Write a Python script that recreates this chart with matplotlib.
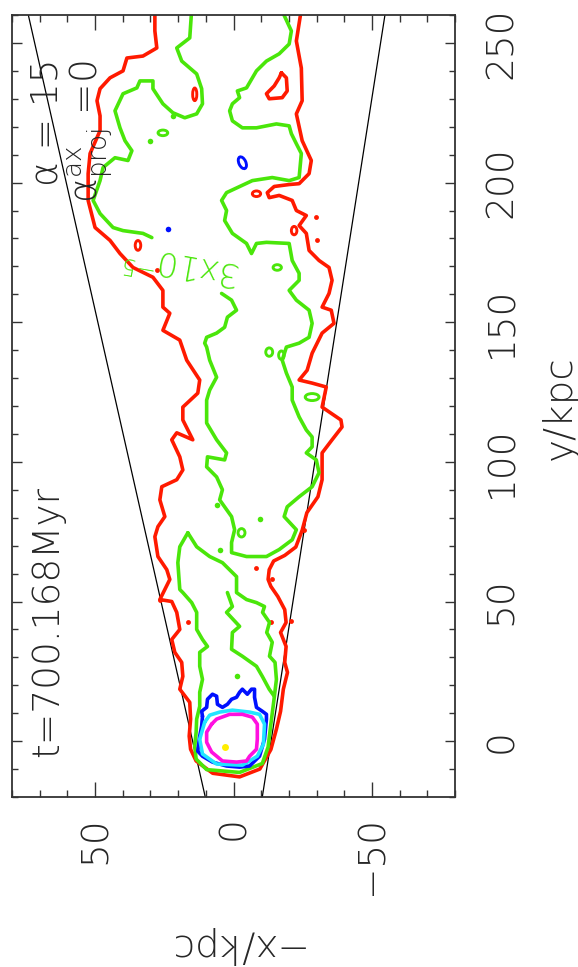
import matplotlib
matplotlib.use("Agg")
import matplotlib.pyplot as plt
from matplotlib.patches import Ellipse
from matplotlib.ticker import MultipleLocator

# ---- contour traces: (-x, y) in kpc ----
red_x = [28.4, 28.4, 27.7, 32.7, 38.5, 39.9, 44.6, 48.2, 49.3, 48.2,
         48.2, 51.8, 52.5, 52.5, 50.0, 44.6, 41.0, 36.3, 29.1, 25.5,
         25.5, 23.0, 25.5, 19.4, 16.9, 12.2, 12.9, 18.3, 18.3, 14.7,
         20.5, 22.3, 19.4, 18.3, 20.5, 25.9, 26.6, 24.8, 27.3, 28.4,
         27.3, 24.1, 23.0, 26.6, 22.3, 20.5, 19.4, 22.3, 21.2, 18.7,
         18.3, 19.4, 15.8, 15.5, 16.0, 15.5, 13.5, 7.5, -2.2, -9.5,
         -13.5, -15.5, -17.0, -18.0, -19.5, -18.5, -19.0, -17.0, -19.0, -18.5,
         -16.0, -13.5, -12.5, -12.9, -14.5, -18.5, -22.5, -24.8, -26.5, -30.5,
         -32.0, -32.0, -35.6, -39.2, -38.8, -32.0, -33.5, -28.4, -23.7, -26.6,
         -28.4, -32.0, -36.3, -35.3, -32.0, -34.5, -35.6, -34.5, -30.9, -27.3,
         -26.3, -23.7, -26.3, -22.7, -21.2, -16.5, -12.9, -12.2, -14.7, -20.1,
         -23.7, -27.3, -28.1, -24.8, -22.7, -24.8, -24.5, -22.7, -24.5]
red_y = [262, 254.3, 248.2, 245.3, 244.6, 240, 237.5, 233.6, 229.3, 223.9,
         218.6, 210.4, 203.2, 193.6, 183.9, 179.3, 174.6, 169.6, 166.1, 161.4,
         155.4, 153.2, 147.1, 143.6, 136.4, 129.3, 124.6, 119.6, 115, 107.9,
         110.4, 107.9, 101.8, 97.1, 93.6, 91.1, 86.4, 80.4, 76.8, 73.2,
         66.1, 61.4, 57.9, 50.7, 50, 46.1, 40, 36.4, 31.8, 28.2,
         23.2, 18.6, 13.9, 7.9, 1.8, -2.9, -7.1, -11.5, -12.8, -10.0,
         -3.0, 4.3, 10.7, 18.6, 24.6, 28.2, 33.9, 38.9, 42.5, 47.1,
         51.8, 55.4, 57.9, 61.4, 64.5, 66.5, 69.5, 75.5, 81.8, 87.5,
         93.6, 103.2, 107.9, 112.5, 115, 119.6, 126.8, 128.2, 129.3, 132.8,
         138.9, 146.1, 149.6, 154.3, 155.4, 160.3, 165, 169.6, 172.1, 175.7,
         181.8, 184.6, 188.2, 190, 193.6, 195.4, 194.6, 196.4, 198.6, 199.3,
         199.6, 203.2, 207.9, 215, 224.6, 229.3, 241, 250.7, 262]

red_heart_x = [-17.3, -19.1, -19.4, -17.6, -12.9, -11.9, -14.7, -16.5, -17.3]
red_heart_y = [239.3, 237.5, 232.8, 230.4, 230.0, 231.8, 234.6, 237.5, 239.3]

red_loop_x = [14.0, -8.3, 34.5, -21.9]
red_loop_y = [231.6, 196.0, 177.5, 182.8]
red_loop_w = [1.5, 3.0, 2.0, 2.0]
red_loop_h = [4.5, 2.0, 3.5, 3.0]
red_dot_x = [27.7, -30.2, -29.9, 26.6, 16.5, -13.7, -20.9, -8.3, -14.0, -25.5]
red_dot_y = [168.6, 179.3, 187.5, 50.7, 42.5, 42.5, 42.9, 62.1, 57.9, 75.7]

# 3e-5 level: upper branch (left of the label) and the rest of the lobe
green_a_x = [15.1, 15.8, 20.5, 18.7, 13.3, 11.5, 11.2, 13.3, 17.6, 21.9,
             25.5, 29.1, 29.1, 33.8, 34.9, 39.9, 42.8, 41.0, 39.2, 36.7,
             38.1, 42.8, 47.1, 48.2, 50.7, 48.2, 43.5, 39.9, 32.7, 29.5]
green_a_y = [262, 251.8, 248.2, 243.5, 238.9, 233.6, 228.2, 224.6, 223.2, 225,
             228.2, 233.6, 236.4, 236.4, 233.9, 231.8, 225.7, 219.6, 215, 211.4,
             207.9, 208.9, 205.4, 200.7, 193.6, 188.9, 183.9, 182.8, 181.8, 180.3]
green_b_x = [4.3, 0.7, -1.1, 2.2, 3.2, 6.1, 9.7, 10.4, 9.7, 8.6,
             6.1, 8.6, 9.7, 9.7, 6.1, 2.5, 3.2, 9.4, 9.7, 6.1,
             4.0, 5.0, 2.5, 0.7, -0.4, 0.7, 0.7, -4.7, -11.9, -16.5,
             -21.2, -22.7, -18.3, -19.4, -23.7, -28.4, -30.9, -29.9, -26.3, -28.4,
             -28.4, -26.3, -23.7, -21.2, -21.2, -19.1, -17.6, -19.1, -23.7, -27.3,
             -28.4, -27.3, -22.7, -20.1, -23.7, -23.7, -21.2, -20.1, -11.9, -8.3,
             -6.5, -4.7, 0.4, 3.2, 2.5, 4.3, 2.5, -6.8, -14.0, -20.1,
             -23.7, -24.5, -22.7, -20.9, -20.1, -15.5, -8.3, -3.2, 0.4, 1.4,
             0.4, -2.2, -1.4, -4.7, -8.3, -11.9, -16.5, -20.1, -20.9, -17.3]
green_b_y = [160.3, 157.9, 154.3, 151.8, 148.2, 146.1, 144.6, 142.5, 141.1, 136.4,
             130.3, 125.7, 122.1, 113.9, 107.9, 103.2, 100.7, 101.8, 98.2, 94.6,
             90, 86.4, 82.9, 80.4, 75.7, 71.1, 67.5, 66.1, 66.1, 68.6,
             72.1, 75.7, 80.4, 83.9, 87.5, 91.1, 96.1, 100.7, 103.2, 105.4,
             108.9, 111.4, 116.1, 122.1, 126.8, 131.8, 136.4, 141.1, 142.5, 144.6,
             149.6, 154.3, 157.9, 161.4, 165, 167.5, 172.1, 178.2, 178.6, 178.2,
             174.6, 178.2, 181.8, 186.4, 190, 193.6, 196.4, 200.7, 201.8, 200.7,
             201.8, 210.4, 213.9, 217.5, 220.3, 221, 219.6, 219.6, 222.1, 225.7,
             228.2, 230.4, 232.8, 233.9, 240, 243.5, 246.1, 249.6, 254.3, 262]
green_c_x = [16.5, 19.4, 20.1, 19.4, 18.3, 15.1, 13.3, 13.3, 11.2, 9.4,
             12.2, 12.2, 11.2, 12.2, 12.2, 13.3, 13.5, 14.0, 13.5, 9.7,
             -2.2, -10.4, -12.5, -13.5, -14.5, -15.5, -15.0, -13.0, -14.0, -12.0,
             -13.0, -10.5, -11.2, -8.3, -4.7, -1.1, -1.1, 4.0, 8.6, 13.3, 16.5]
green_c_y = [74.6, 69.6, 63.9, 54.3, 53.2, 49.6, 46.1, 40, 36.4, 33.9,
             31.8, 26.8, 22.1, 17.5, 12.5, 7.9, 3.2, -1.8, -6.4, -10.2,
             -11.2, -8.0, -2.1, 6.1, 13.9, 22.1, 28.2, 30.4, 35.4, 38.9,
             42.5, 46.1, 48.2, 49.6, 50.7, 53.2, 58.9, 63.9, 66.1, 69.6, 74.6]
green_d_x = [2.2, 0.4, 2.5, -2.2, 0.4, 0.7, -3.2, -8.3, -10.4, -12.9, -14.7]
green_d_y = [53.2, 48.2, 46.1, 41.1, 38.9, 32.9, 30.4, 26.8, 23.2, 18.6, 16.1]

green_loop_x = [25.5, -15.8, -12.9, -17.3, -2.9, -28.4]
green_loop_y = [217.8, 169.6, 139.3, 138.2, 74.6, 123.2]
green_loop_w = [3.5, 3.0, 2.5, 2.0, 2.5, 5.0]
green_loop_h = [2.0, 2.0, 3.0, 3.0, 3.0, 2.5]
green_dot_x = [30.2, 21.9, 5.8, -9.7, 5.0, -1.1]
green_dot_y = [215.0, 223.9, 84.6, 79.6, 68.6, 23.2]

blue_x = [11.2, 11.5, 9.7, 9.4, 7.6, 6.1, 5.8, 4.0, 2.2, 0.7,
          -1.1, -2.2, -3.2, -5.0, -6.5, -7.6, -7.6, -8.3, -10.4, -11.9,
          -11.9, -11.2, -9.4, -5.8, -2.2, 2.5, 7.6, 11.2, 12.9, 12.2, 11.5, 11.2]
blue_y = [8.9, 10.7, 12.1, 15.0, 16.8, 16.1, 13.2, 12.1, 13.2, 15.0,
          15.7, 17.5, 18.6, 16.8, 18.6, 18.6, 15.7, 12.1, 10.7, 9.6,
          7.9, 0.7, -5.4, -8.9, -9.3, -8.9, -7.5, -5.4, -3.6, 1.8, 5.4, 8.9]
blue_loop = (-3.2, 207.1, 2.5, 4.5)
blue_dot = (23.7, 183.2)

cyan_x = [10.4, 12.2, 11.2, 6.1, -3.2, -8.6, -10.8, -11.2, -9.4, -5.8, 0.4, 5.0, 8.6, 10.4]
cyan_y = [6.8, 0.7, -4.6, -8.2, -8.6, -5.4, -1.1, 6.1, 9.6, 10.4, 11.1, 10.4, 9.3, 6.8]

magenta_x = [7.9, 6.1, 1.4, -3.2, -6.8, -8.6, -8.6, -8.3, -5.8, -4.7, -1.1, 4.0, 7.9, 9.7, 9.7, 7.9]
magenta_y = [6.1, 7.9, 9.6, 9.6, 8.6, 6.1, 0.7, -2.9, -5.4, -7.1, -7.5, -7.1, -3.9, -0.4, 3.2, 6.1]

yellow_peak = (2.9, -2.1)

# opening-angle lines
cone_left_x = [10.2, 74.1]
cone_right_x = [-10.4, -54.7]
cone_y = [-20, 260]

x_ticks = [50, 0, -50]
y_ticks = [0, 50, 100, 150, 200, 250]

RED, GREEN, BLUE = "#ff1a00", "#4ae60a", "#0010ff"
CYAN, MAGENTA, YELLOW = "#22e5ff", "#ff10e0", "#ffee00"
INK = "#262626"
LW = 2.6
WEIGHT = "light"

plt.rcParams["font.family"] = ["DejaVu Sans"]
plt.rcParams["font.weight"] = WEIGHT
plt.rcParams["mathtext.fontset"] = "custom"
plt.rcParams["mathtext.rm"] = "DejaVu Sans:light"
plt.rcParams["mathtext.it"] = "DejaVu Sans:light"
plt.rcParams["mathtext.default"] = "regular"

fig = plt.figure(figsize=(5.78, 9.67), dpi=100)
ax = fig.add_axes([12 / 578, 1 - 797 / 967, 443 / 578, 782 / 967])
ax.set_xlim(80, -80)
ax.set_ylim(-20, 260)

line_kw = dict(lw=LW, solid_joinstyle="round", solid_capstyle="round")

ax.plot(cone_left_x, cone_y, color="black", lw=0.9)
ax.plot(cone_right_x, cone_y, color="black", lw=0.9)

ax.plot(red_x, red_y, color=RED, **line_kw)
ax.plot(red_heart_x, red_heart_y, color=RED, **line_kw)
for cx, cy, w, h in zip(red_loop_x, red_loop_y, red_loop_w, red_loop_h):
    ax.add_patch(Ellipse((cx, cy), w, h, fill=False, ec=RED, lw=LW * 0.8))
ax.plot(red_dot_x, red_dot_y, "o", color=RED, ms=3.5, mew=0)

for gx, gy in [(green_a_x, green_a_y), (green_b_x, green_b_y),
               (green_c_x, green_c_y), (green_d_x, green_d_y)]:
    ax.plot(gx, gy, color=GREEN, **line_kw)
for cx, cy, w, h in zip(green_loop_x, green_loop_y, green_loop_w, green_loop_h):
    ax.add_patch(Ellipse((cx, cy), w, h, fill=False, ec=GREEN, lw=LW * 0.8))
ax.plot(green_dot_x, green_dot_y, "o", color=GREEN, ms=4, mew=0)

ax.plot(blue_x, blue_y, color=BLUE, **line_kw)
ax.add_patch(Ellipse(blue_loop[:2], blue_loop[2], blue_loop[3], angle=-25,
                     fill=False, ec=BLUE, lw=LW * 0.8))
ax.plot(*blue_dot, "o", color=BLUE, ms=4, mew=0)
ax.plot(cyan_x, cyan_y, color=CYAN, **line_kw)
ax.plot(magenta_x, magenta_y, color=MAGENTA, **line_kw)
ax.plot(*yellow_peak, "o", color=YELLOW, ms=5, mew=0)

# contour label
ax.text(0.385, 0.683, r"3x10$^{-5}$", transform=ax.transAxes, rotation=170,
        rotation_mode="anchor", ha="center", va="center", color=GREEN, fontsize=24)

# axes styling
ax.set_xticks(x_ticks)
ax.set_yticks(y_ticks)
ax.xaxis.set_minor_locator(MultipleLocator(10))
ax.yaxis.set_minor_locator(MultipleLocator(10))
for s in ax.spines.values():
    s.set_color("#333333")
    s.set_linewidth(1.3)
ax.tick_params(which="both", direction="in", top=True, bottom=True, left=True,
               right=True, labelleft=False, labelright=True, labelbottom=True,
               colors="#333333", labelcolor=INK)
ax.tick_params(axis="x", which="major", length=11, width=1.0, pad=14,
               labelsize=27, labelrotation=90)
ax.tick_params(axis="x", which="minor", length=5, width=1.0)
ax.tick_params(axis="y", which="major", length=7, width=1.0, pad=21,
               labelsize=27, labelrotation=90)
ax.tick_params(axis="y", which="minor", length=4.5, width=1.0)
for lab in ax.get_yticklabels():
    lab.set_va("center")

fig.text(560 / 578, 1 - 408 / 967, "y/kpc", rotation=90, ha="center",
         va="center", fontsize=28, color=INK)
fig.text(233 / 578, 1 - 945 / 967, "\u2212x/kpc", rotation=180, ha="center",
         va="center", fontsize=28, color=INK)

ax.text(0.104, 0.051, "t=700.168Myr", transform=ax.transAxes, rotation=90,
        rotation_mode="anchor", ha="left", va="baseline", fontsize=27, color=INK)
ax.text(0.102, 0.945, "\u03b1 = 15", transform=ax.transAxes, rotation=90,
        rotation_mode="anchor", ha="right", va="baseline", fontsize=27, color=INK)
ax.text(0.192, 0.9425, r"$\alpha^{ax}_{proj}$ =0", transform=ax.transAxes,
        rotation=90, rotation_mode="anchor", ha="right", va="baseline",
        fontsize=27, color=INK)

fig.savefig("out.png", dpi=100)
